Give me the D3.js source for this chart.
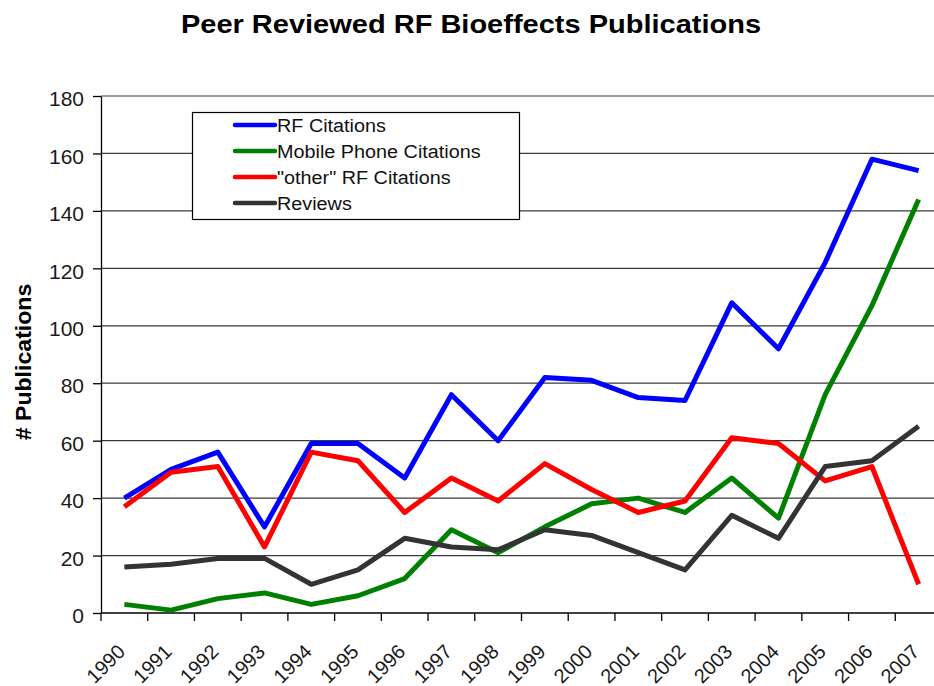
<!DOCTYPE html>
<html>
<head>
<meta charset="utf-8">
<script src="https://cdn.jsdelivr.net/npm/d3@7/dist/d3.min.js"></script>
<style>
  html, body { margin: 0; padding: 0; background: #fff; }
  svg { display: block; font-family: "Liberation Sans", Arial, sans-serif; }
</style>
</head>
<body>
<svg id="chart" width="934" height="686"></svg>
<script>
// Publication counts per year
const years = ["1990","1991","1992","1993","1994","1995","1996","1997","1998",
               "1999","2000","2001","2002","2003","2004","2005","2006","2007"];
const rfCitations      = [40, 50, 56, 30, 59, 59, 47, 76, 60, 82, 81, 75, 74, 108, 92, 122, 158, 154];
const mobileCitations  = [ 3,  1,  5,  7,  3,  6, 12, 29, 21, 30, 38, 40, 35,  47, 33,  76, 107, 144];
const otherRfCitations = [37, 49, 51, 23, 56, 53, 35, 47, 39, 52, 43, 35, 39,  61, 59,  46,  51,  10];
const reviews          = [16, 17, 19, 19, 10, 15, 26, 23, 22, 29, 27, 21, 15,  34, 26,  51,  53,  65];
const yTicks = [0, 20, 40, 60, 80, 100, 120, 140, 160, 180];

const seriesNames  = ["RF Citations", "Mobile Phone Citations", "\"other\" RF Citations", "Reviews"];
const seriesValues = [rfCitations, mobileCitations, otherRfCitations, reviews];
const seriesColors = ["#0000ff", "#008000", "#ff0000", "#333333"];

const svg = d3.select("#chart");

// stretch a text element horizontally by a factor
function widen(sel, k) {
  sel.each(function () {
    const len = this.getComputedTextLength();
    d3.select(this).attr("textLength", len * k).attr("lengthAdjust", "spacingAndGlyphs");
  });
}

const x = d3.scaleBand().domain(years).range([101, 942]);
const y = d3.scaleLinear().domain([0, 180]).range([613, 96]);
const cx = d => x(d) + x.bandwidth() / 2;

// horizontal gridlines
svg.append("g").selectAll("line").data(yTicks.filter(v => v > 0)).join("line")
  .attr("x1", 101).attr("x2", 942)
  .attr("y1", d => y(d)).attr("y2", d => y(d))
  .attr("stroke", "#3a3a3a").attr("stroke-width", 1.2);

// y axis
const yAxis = svg.append("g").attr("transform", "translate(101,0)")
  .call(d3.axisLeft(y).tickValues(yTicks).tickSize(8).tickPadding(9).tickSizeOuter(0));
yAxis.select(".domain").attr("stroke", "#000").attr("stroke-width", 1.3);
yAxis.selectAll(".tick line").attr("stroke", "#000").attr("stroke-width", 1.3);
yAxis.selectAll(".tick text")
  .attr("font-size", 21).attr("fill", "#1a1a1a").attr("dy", "0.46em")
  .attr("font-family", "'Liberation Sans', Arial, sans-serif");

// x axis: baseline, category boundary ticks, rotated labels
const xg = svg.append("g");
xg.append("line").attr("x1", 101).attr("x2", 942).attr("y1", y(0)).attr("y2", y(0))
  .attr("stroke", "#000").attr("stroke-width", 1.3);
xg.selectAll("line.tk").data(years).join("line").attr("class", "tk")
  .attr("x1", d => x(d)).attr("x2", d => x(d))
  .attr("y1", y(0)).attr("y2", y(0) + 8)
  .attr("stroke", "#000").attr("stroke-width", 1.3);
xg.selectAll("text").data(years).join("text")
  .attr("transform", d => `translate(${cx(d) - 3},648) rotate(-45)`)
  .attr("text-anchor", "end").attr("dy", "0.35em")
  .attr("font-size", 20).attr("fill", "#1a1a1a")
  .text(d => d);

// series lines
const line = d3.line().x((d, i) => cx(years[i])).y(d => y(d));
svg.append("g").selectAll("path").data(seriesValues).join("path")
  .attr("d", d => line(d))
  .attr("fill", "none")
  .attr("stroke", (d, i) => seriesColors[i])
  .attr("stroke-width", 5)
  .attr("stroke-linejoin", "round")
  .attr("stroke-linecap", "butt");

// title
svg.append("text").attr("x", 471).attr("y", 33).attr("text-anchor", "middle")
  .attr("font-size", 25).attr("font-weight", "bold").attr("fill", "#000")
  .text("Peer Reviewed RF Bioeffects Publications")
  .call(widen, 1.16);

// y axis title
svg.append("text").attr("transform", "translate(31,362) rotate(-90)")
  .attr("text-anchor", "middle")
  .attr("font-size", 22).attr("font-weight", "bold").attr("fill", "#000")
  .text("# Publications")
  .call(widen, 1.05);

// legend
const lg = svg.append("g");
lg.append("rect").attr("x", 192.5).attr("y", 112.5).attr("width", 327).attr("height", 107)
  .attr("fill", "#fff").attr("stroke", "#000").attr("stroke-width", 1.2);
const rows = lg.selectAll("g.row").data(seriesNames).join("g").attr("class", "row")
  .attr("transform", (d, i) => `translate(0,${125 + i * 26})`);
rows.append("line").attr("x1", 235).attr("x2", 275).attr("y1", 0).attr("y2", 0)
  .attr("stroke", (d, i) => seriesColors[i]).attr("stroke-width", 4.5)
  .attr("stroke-linecap", "round");
rows.append("text").attr("x", 277).attr("y", 6.5)
  .attr("font-size", 18).attr("fill", "#111")
  .text(d => d)
  .call(widen, 1.1);
</script>
</body>
</html>
